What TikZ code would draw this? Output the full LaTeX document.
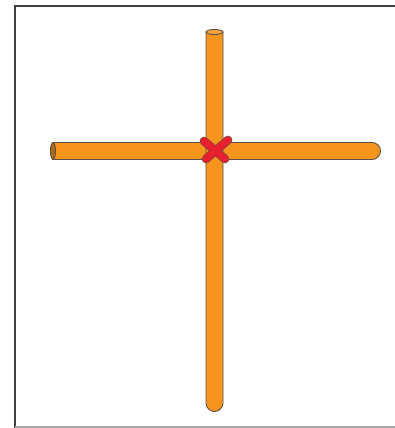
\documentclass[tikz,border=0pt]{standalone}
\usepackage{tikz}
\usepackage{xcolor}
\definecolor{stickorange}{RGB}{247,148,30}
\definecolor{stickedge}{RGB}{90,80,70}
\definecolor{crossred}{RGB}{232,32,48}

\begin{document}
\begin{tikzpicture}[x=1pt, y=-1pt,
  stick/.style={fill=stickorange, draw=stickedge, line width=0.9pt},
  mark red/.style={line cap=round, line width=7pt, crossred}]
\useasboundingbox (0,0) rectangle (395,428);
\fill[white] (0,0) rectangle (395,428);
% frame
\draw[black!75, line width=1.6pt] (15,428) -- (15,6) -- (395,6);
\draw[black!35, line width=1.2pt] (15,427) -- (395,427);
% horizontal stick
\draw[stick] (53,142.5) -- (372,142.5) arc[start angle=-90, end angle=90, radius=8.5] -- (53,159.5) -- cycle;
\draw[stick, fill=stickorange!70!black] (53,151) ellipse[x radius=2.5, y radius=8.5];
% vertical stick
\draw[stick] (206,32) -- (206,403) arc[start angle=180, end angle=0, radius=8.5] -- (223,32) -- cycle;
\draw[stick, fill=stickorange!85!white] (214.5,32) ellipse[x radius=8.5, y radius=2.5];
% red cross
\foreach \a/\b in {{(204,141)}/{(225,159)}, {(206,159)}/{(228,140)}}{
  \draw[mark red, line width=8.6pt, stickedge!70!crossred] \a -- \b;
}
\foreach \a/\b in {{(204,141)}/{(225,159)}, {(206,159)}/{(228,140)}}{
  \draw[mark red] \a -- \b;
}
\end{tikzpicture}
\end{document}
